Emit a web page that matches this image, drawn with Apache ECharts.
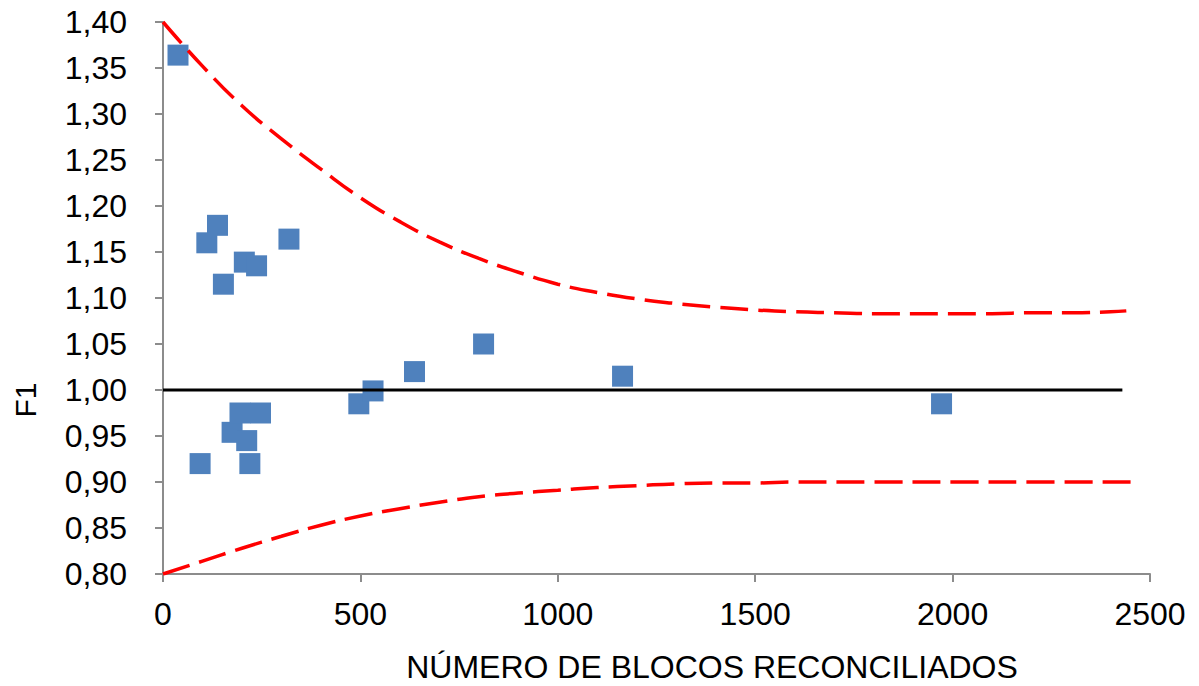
<!DOCTYPE html>
<html>
<head>
<meta charset="utf-8">
<script src="https://cdn.jsdelivr.net/npm/echarts@6/dist/echarts.min.js"></script>
<style>
  html, body { margin: 0; padding: 0; background: #ffffff; }
  #chart { width: 1199px; height: 686px; }
</style>
</head>
<body>
<div id="chart"></div>
<script>
// Reconciled blocks vs. F1 factor
const blockCounts = [38, 138, 111, 319, 206, 237, 153, 94, 175, 195, 247, 212, 220, 496, 532, 637, 812, 1164, 1972];
const f1Values    = [1.364, 1.179, 1.160, 1.164, 1.139, 1.135, 1.115, 0.920, 0.954, 0.975, 0.975, 0.945, 0.920, 0.985, 0.999, 1.020, 1.050, 1.015, 0.985];

// Upper control limit
const upperLimitX = [0, 100, 200, 300, 400, 500, 600, 700, 800, 900, 1000, 1100, 1200, 1300, 1400, 1500, 1600, 1700, 1800, 1900, 2000, 2100, 2200, 2300, 2400, 2440];
const upperLimitY = [1.400, 1.352, 1.309, 1.273, 1.240, 1.209, 1.183, 1.161, 1.143, 1.128, 1.115, 1.106, 1.099, 1.094, 1.090, 1.087, 1.085, 1.084, 1.083, 1.083, 1.083, 1.083, 1.084, 1.084, 1.085, 1.086];

// Lower control limit
const lowerLimitX = [0, 100, 200, 300, 400, 500, 600, 700, 800, 900, 1000, 1100, 1200, 1300, 1400, 1500, 1600, 1800, 2000, 2200, 2470];
const lowerLimitY = [0.800, 0.814, 0.828, 0.841, 0.853, 0.863, 0.871, 0.878, 0.884, 0.888, 0.891, 0.894, 0.896, 0.898, 0.899, 0.899, 0.900, 0.900, 0.900, 0.900, 0.900];

// Target line
const targetX = [0, 2430];
const targetY = [1.00, 1.00];

const xTicks = { min: 0, max: 2500, step: 500 };
const yTicks = { min: 0.80, max: 1.40, step: 0.05 };

const pairs = (xs, ys) => xs.map((x, i) => [x, ys[i]]);

const FONT = 'Liberation Sans, Arial, sans-serif';
const AXIS_GREY = '#8c8c8c';
const LIMIT_STYLE = { color: '#ff0000', width: 3.5, type: [28, 10] };

const chart = echarts.init(document.getElementById('chart'), null, { renderer: 'svg' });

chart.setOption({
  backgroundColor: '#ffffff',
  animation: false,
  grid: { left: 163, right: 49, top: 22, bottom: 112, containLabel: false },
  xAxis: {
    type: 'value',
    min: xTicks.min,
    max: xTicks.max,
    interval: xTicks.step,
    splitLine: { show: false },
    axisLine: { show: true, onZero: false, lineStyle: { color: AXIS_GREY, width: 2 } },
    axisTick: { show: true, inside: false, length: 8, lineStyle: { color: AXIS_GREY, width: 2 } },
    axisLabel: {
      color: '#000', fontFamily: FONT, fontSize: 32, margin: 24,
      formatter: v => String(Math.round(v))
    }
  },
  yAxis: {
    type: 'value',
    min: yTicks.min,
    max: yTicks.max,
    interval: yTicks.step,
    splitLine: { show: false },
    axisLine: { show: true, onZero: false, lineStyle: { color: AXIS_GREY, width: 2 } },
    axisTick: { show: true, inside: false, length: 8, lineStyle: { color: AXIS_GREY, width: 2 } },
    axisLabel: {
      color: '#000', fontFamily: FONT, fontSize: 32, margin: 36,
      formatter: v => v.toFixed(2).replace('.', ',')
    }
  },
  graphic: [
    {
      type: 'text',
      x: 712, y: 667,
      style: {
        text: 'NÚMERO DE BLOCOS RECONCILIADOS',
        fill: '#000',
        font: '32px ' + FONT,
        textAlign: 'center',
        textVerticalAlign: 'middle'
      }
    },
    {
      type: 'text',
      x: 25, y: 400,
      rotation: Math.PI / 2,
      style: {
        text: 'F1',
        fill: '#000',
        font: '30px ' + FONT,
        textAlign: 'center',
        textVerticalAlign: 'middle'
      }
    }
  ],
  series: [
    {
      name: 'F1',
      type: 'scatter',
      symbol: 'rect',
      symbolSize: 21,
      itemStyle: { color: '#4f81bd', opacity: 1 },
      data: pairs(blockCounts, f1Values),
      z: 2
    },
    {
      name: 'Limite superior',
      type: 'line',
      smooth: 0.5,
      showSymbol: false,
      lineStyle: LIMIT_STYLE,
      data: pairs(upperLimitX, upperLimitY),
      z: 3
    },
    {
      name: 'Limite inferior',
      type: 'line',
      smooth: 0.5,
      showSymbol: false,
      lineStyle: LIMIT_STYLE,
      data: pairs(lowerLimitX, lowerLimitY),
      z: 3
    },
    {
      name: 'Meta',
      type: 'line',
      showSymbol: false,
      lineStyle: { color: '#000000', width: 3 },
      data: pairs(targetX, targetY),
      z: 4
    }
  ]
});
</script>
</body>
</html>
